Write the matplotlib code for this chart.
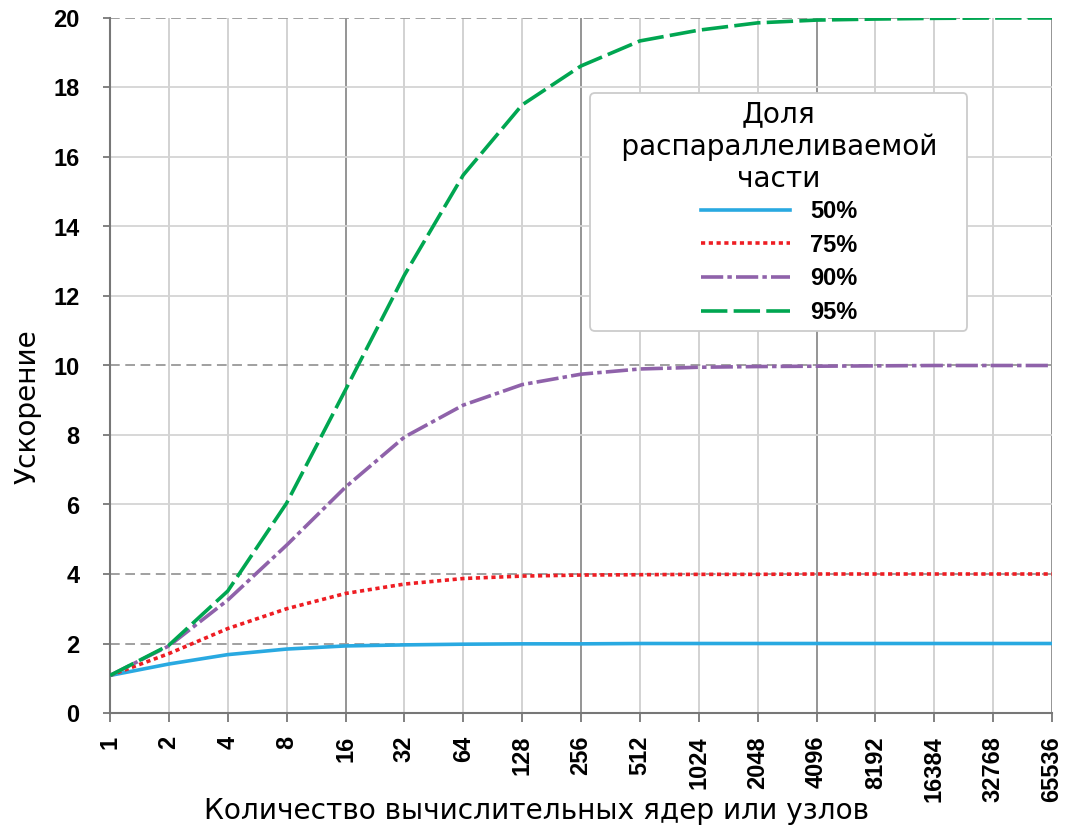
import numpy as np
import matplotlib
matplotlib.use("Agg")
import matplotlib.pyplot as plt
from matplotlib import font_manager

# values
cores = [1, 2, 4, 8, 16, 32, 64, 128, 256, 512, 1024, 2048, 4096,
         8192, 16384, 32768, 65536]
speedup_50 = [1.08, 1.41, 1.68, 1.84, 1.93, 1.96, 1.98, 1.99, 1.99, 2.0,
              2.0, 2.0, 2.0, 2.0, 2.0, 2.0, 2.0]
speedup_75 = [1.08, 1.71, 2.43, 3.0, 3.44, 3.71, 3.87, 3.94, 3.97, 3.98,
              3.99, 3.99, 4.0, 4.0, 4.0, 4.0, 4.0]
speedup_90 = [1.08, 1.93, 3.25, 4.83, 6.5, 7.94, 8.86, 9.45, 9.75, 9.9,
              9.95, 9.97, 9.98, 9.99, 10.0, 10.0, 10.0]
speedup_95 = [1.08, 1.95, 3.51, 6.04, 9.3, 12.6, 15.48, 17.5, 18.62, 19.34,
              19.65, 19.86, 19.94, 19.97, 19.99, 20.0, 20.0]
labels = ["50%", "75%", "90%", "95%"]
y_ticks = [0, 2, 4, 6, 8, 10, 12, 14, 16, 18, 20]
y_dashed = [2, 4, 10, 20]
x_major = [1, 16, 256, 4096, 65536]

plt.rcParams['lines.scale_dashes'] = False

# regular-width Liberation Sans Bold (avoid picking the Narrow variant)
bold_file = None
for f in font_manager.fontManager.ttflist:
    if (f.name == 'Liberation Sans' and f.weight in (700, 'bold')
            and f.style == 'normal' and 'Narrow' not in f.fname):
        bold_file = f.fname
        break
if bold_file:
    tick_font = font_manager.FontProperties(fname=bold_file, size=17)
else:
    tick_font = font_manager.FontProperties(family='Liberation Sans',
                                            weight='bold', size=17)

fig = plt.figure(figsize=(10.7, 8.3), dpi=100)
ax = fig.add_axes([110 / 1070, 117 / 830, 942 / 1070, 695 / 830])

ax.set_xscale('log', base=2)
ax.set_xlim(1, 65536)
ax.set_ylim(0, 20)

# grid
for v in cores:
    if v in x_major:
        ax.axvline(v, color='#8c8c8c', lw=1.3, zorder=1)
    else:
        ax.axvline(v, color='#cfcfcf', lw=1.3, zorder=1)
for v in y_ticks[1:]:
    if v in y_dashed:
        ax.axhline(v, color='#999999', lw=1.3, ls=(0, (7, 4)), zorder=1)
    else:
        ax.axhline(v, color='#d4d4d4', lw=1.3, zorder=1)

ax.plot(cores, speedup_50, color='#29a9e1', lw=2.6, label=labels[0], zorder=3)
ax.plot(cores, speedup_75, color='#ee1d23', lw=2.6, ls=(0, (3.0, 2.6)),
        label=labels[1], zorder=3)
ax.plot(cores, speedup_90, color='#8f62aa', lw=2.6, ls=(0, (16, 3, 3.2, 3)),
        label=labels[2], zorder=3)
ax.plot(cores, speedup_95, color='#00a651', lw=2.6, ls=(0, (19, 4.5)),
        label=labels[3], zorder=3)

for s in ['top', 'right']:
    ax.spines[s].set_visible(False)
for s in ['left', 'bottom']:
    ax.spines[s].set_color('#777777')
    ax.spines[s].set_linewidth(1.5)

ax.set_xticks(cores)
ax.set_xticklabels([str(c) for c in cores], rotation=90)
ax.minorticks_off()
ax.set_yticks(y_ticks)
ax.tick_params(axis='both', direction='out', width=1.3, color='#777777')
ax.tick_params(axis='x', length=6.5, pad=10)
ax.tick_params(axis='y', length=5, pad=17)
for t in ax.get_xticklabels() + ax.get_yticklabels():
    t.set_fontproperties(tick_font)

ax.set_xlabel("Количество вычислительных ядер или узлов", fontsize=20.2,
              family='DejaVu Sans')
ax.xaxis.set_label_coords((537 - 110) / 942, -(797 - 713) / 695)
ax.set_ylabel("Ускорение", fontsize=20.2, family='DejaVu Sans', labelpad=8)
ax.yaxis.label.set_y((713 - 407) / 695)

pad = "  \u2009"
leg = ax.legend(title="Доля\n" + pad + "распараллеливаемой" + pad + "\nчасти",
                loc='upper left', bbox_to_anchor=(0.51, 0.892),
                borderaxespad=0, prop=tick_font,
                title_fontproperties={'family': 'DejaVu Sans', 'size': 20.2},
                handlelength=3.77, handletextpad=0.85, labelspacing=0.45,
                borderpad=0.3, fancybox=True, framealpha=1,
                edgecolor='#cccccc')
leg.get_title().set_multialignment('center')
leg.get_frame().set_linewidth(1.3)
leg._legend_box.sep = 0.3 * 17
leg.set_zorder(5)

fig.savefig("out.png", dpi=100)
